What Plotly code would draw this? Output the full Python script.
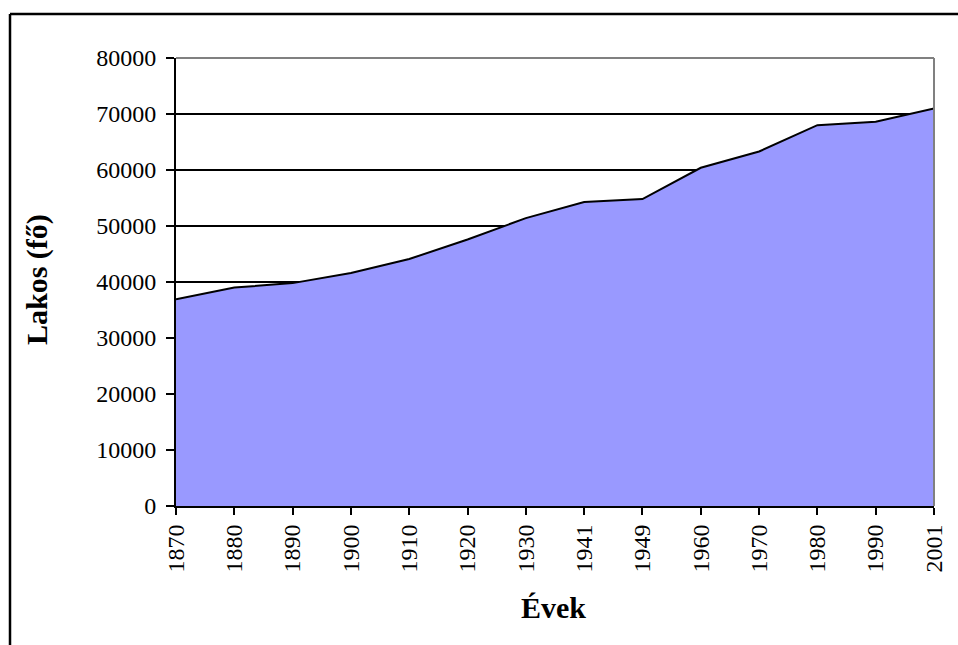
import plotly.graph_objects as go

years = ["1870", "1880", "1890", "1900", "1910", "1920", "1930", "1941",
         "1949", "1960", "1970", "1980", "1990", "2001"]
population = [36900, 39000, 39800, 41600, 44100, 47600, 51400, 54300,
              54800, 60400, 63300, 68000, 68600, 71000]
y_ticks = [0, 10000, 20000, 30000, 40000, 50000, 60000, 70000, 80000]

W, H = 958, 645
L, R, T, B = 176, 934, 58, 506
pw, ph = R - L, B - T

def px(x):
    return (x - L) / pw

def py(y):
    return (B - y) / ph

fig = go.Figure()
fig.add_trace(go.Scatter(
    x=years, y=population, mode="lines", fill="tozeroy",
    fillcolor="#9999FF", line=dict(color="black", width=2),
    hoverinfo="x+y", showlegend=False,
))

font = dict(family="Liberation Serif, Times New Roman, serif", color="black")

fig.update_layout(
    width=W, height=H,
    margin=dict(l=L, r=W - R, t=T, b=H - B),
    paper_bgcolor="white", plot_bgcolor="white",
    font=dict(**font, size=24),
    xaxis=dict(
        type="category", range=[0, len(years) - 1],
        tickangle=-90, ticks="outside", ticklen=7, tickwidth=2,
        tickcolor="black", showline=True, linecolor="black", linewidth=2,
        showgrid=False, zeroline=False, tickfont=dict(**font, size=24),
    ),
    yaxis=dict(
        range=[0, 80000], tickvals=y_ticks, tickformat="d", ticks="outside",
        ticklen=8, tickwidth=2, tickcolor="black", showline=True,
        linecolor="black", linewidth=2, showgrid=True, gridcolor="black",
        gridwidth=2, zeroline=False, tickfont=dict(**font, size=24),
        ticklabelstandoff=5,
    ),
    shapes=[
        # plot area top and right border (grey)
        dict(type="line", xref="paper", yref="paper", x0=0, x1=1, y0=1, y1=1,
             line=dict(color="#808080", width=2), layer="above"),
        dict(type="line", xref="paper", yref="paper", x0=1, x1=1, y0=0, y1=1,
             line=dict(color="#808080", width=2), layer="above"),
        # outer chart frame
        dict(type="line", xref="paper", yref="paper", x0=px(10), x1=px(W + 5),
             y0=py(14), y1=py(14), line=dict(color="black", width=2.5)),
        dict(type="line", xref="paper", yref="paper", x0=px(10), x1=px(10),
             y0=py(14), y1=py(H + 5), line=dict(color="black", width=2.5)),
    ],
    annotations=[
        dict(text="<b>Évek</b>", xref="paper", yref="paper", x=px(553),
             y=py(607), showarrow=False, font=dict(**font, size=30),
             xanchor="center", yanchor="middle"),
        dict(text="<b>Lakos (fő)</b>", xref="paper", yref="paper", x=px(37),
             y=py(280), showarrow=False, textangle=-90,
             font=dict(**font, size=30), xanchor="center", yanchor="middle"),
    ],
)

fig.write_html("out.html", config={"displayModeBar": False},
               post_script="document.body.style.margin='0';")
